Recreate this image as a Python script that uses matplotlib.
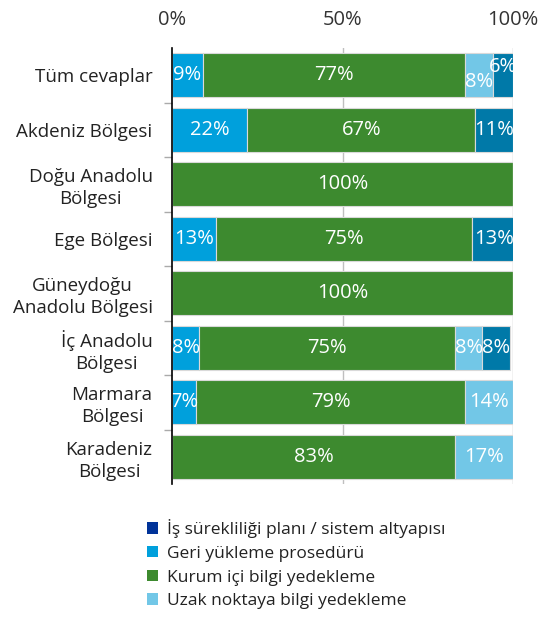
import matplotlib
matplotlib.use("Agg")
import matplotlib.pyplot as plt
from matplotlib.patches import Patch
import numpy as np

plt.rcParams['font.family'] = ['Open Sans', 'DejaVu Sans']

categories = [
    "Tüm cevaplar",
    "Akdeniz Bölgesi",
    "Doğu Anadolu\nBölgesi",
    "Ege Bölgesi",
    "Güneydoğu\nAnadolu Bölgesi",
    "İç Anadolu\nBölgesi",
    "Marmara\nBölgesi",
    "Karadeniz\nBölgesi",
]

geri_yukleme = [9, 22, 0, 13, 0, 8, 7, 0]
kurum_ici = [77, 67, 100, 75, 100, 75, 79, 83]
uzak_nokta = [8, 0, 0, 0, 0, 8, 14, 17]
is_surekliligi = [6, 11, 0, 13, 0, 8, 0, 0]

legend_labels = [
    "İş sürekliliği planı / sistem altyapısı",
    "Geri yükleme prosedürü",
    "Kurum içi bilgi yedekleme",
    "Uzak noktaya bilgi yedekleme",
]
legend_colors = ["#003399", "#00a0dc", "#3d8a2f", "#72c7e7"]

x_ticks = [0, 50, 100]
x_ticklabels = ["0%", "50%", "100%"]

series = [
    (geri_yukleme, "#00a0dc"),
    (kurum_ici, "#3d8a2f"),
    (uzak_nokta, "#72c7e7"),
    (is_surekliligi, "#0079a8"),
]

# small vertical nudges for crowded labels (row, series) -> points
label_nudge = {(0, 2): -5, (0, 3): 6}

fig = plt.figure(figsize=(5.39, 6.17), dpi=100)
ax = fig.add_axes([172 / 539, 1 - 484 / 617, 341 / 539, 436 / 617])

y = np.arange(len(categories))
left = np.zeros(len(categories))
for si, (vals, color) in enumerate(series):
    vals = np.array(vals, dtype=float)
    ax.barh(y, vals, left=left, height=0.8, color=color,
            edgecolor="#d9d9d9", linewidth=0.8, zorder=3)
    for ri, v in enumerate(vals):
        if v > 0:
            ax.annotate(f"{int(v)}%", (left[ri] + v / 2, y[ri]),
                        xytext=(0, label_nudge.get((ri, si), 0)),
                        textcoords="offset points",
                        ha="center", va="center", color="white",
                        fontsize=14.5, zorder=4, annotation_clip=False)
    left += vals

ax.set_xlim(0, 100)
ax.set_ylim(len(categories) - 0.5, -0.5)
ax.xaxis.tick_top()
ax.set_xticks(x_ticks)
ax.set_xticklabels(x_ticklabels, fontsize=14.5, color="#333333")
ax.tick_params(axis="x", length=0, pad=13)
for xv in x_ticks[1:]:
    ax.axvline(xv, color="#bfbfbf", linewidth=1, zorder=1)

ax.set_yticks(y)
ax.set_yticklabels(categories, fontsize=13.5, color="#222222",
                   multialignment="center", linespacing=1.3)
ax.tick_params(axis="y", length=0, pad=14)
ax.set_yticks(np.arange(-0.5, len(categories) - 0.5, 1)[1:], minor=True)
ax.tick_params(axis="y", which="minor", length=6, color="#aaaaaa", width=1)

for s in ["top", "right", "bottom"]:
    ax.spines[s].set_visible(False)
ax.spines["left"].set_color("black")
ax.spines["left"].set_linewidth(1.2)
ax.spines["left"].set_zorder(5)

handles = [Patch(facecolor=c, edgecolor="none") for c in legend_colors]
fig.legend(handles, legend_labels, loc="upper left",
           bbox_to_anchor=(140 / 539, 1 - 512 / 617), frameon=False,
           fontsize=12.5, handlelength=0.65, handleheight=0.65,
           handletextpad=0.5, labelspacing=0.45, borderaxespad=0,
           labelcolor="#222222")

fig.savefig("out.png", dpi=100)
